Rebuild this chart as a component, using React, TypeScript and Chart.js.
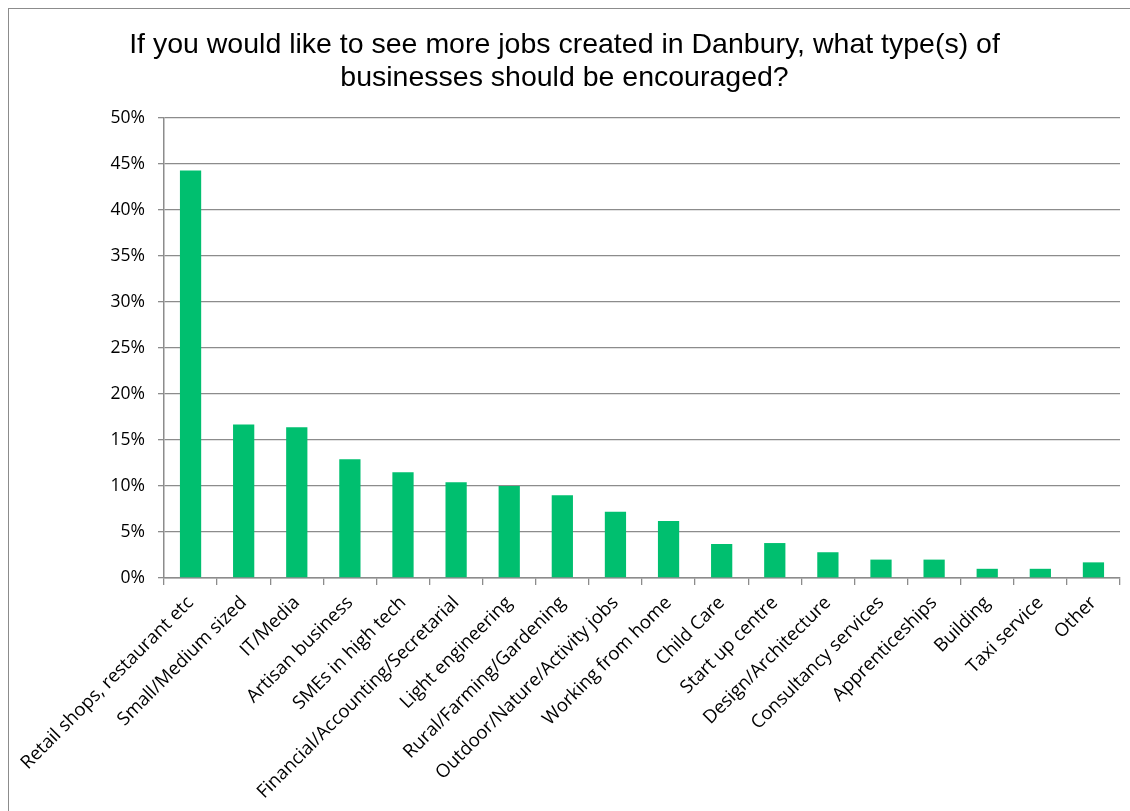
import React, { useEffect, useRef } from "react";
import { Chart, registerables } from "chart.js";

Chart.register(...registerables);

const titleLines = [
  "If you would like to see more jobs created in Danbury, what type(s) of",
  "businesses should be encouraged?",
];

const categories = [
  "Retail shops, restaurant etc",
  "Small/Medium sized",
  "IT/Media",
  "Artisan business",
  "SMEs in high tech",
  "Financial/Accounting/Secretarial",
  "Light engineering",
  "Rural/Farming/Gardening",
  "Outdoor/Nature/Activity jobs",
  "Working from home",
  "Child Care",
  "Start up centre",
  "Design/Architecture",
  "Consultancy services",
  "Apprenticeships",
  "Building",
  "Taxi service",
  "Other",
];

const percentages = [
  44.3, 16.7, 16.4, 12.9, 11.5, 10.4, 10.0, 9.0, 7.2, 6.2, 3.7, 3.8, 2.8, 2.0,
  2.0, 1.0, 1.0, 1.7,
];

const yMax = 50;
const yStep = 5;

export default function App() {
  const canvasRef = useRef<HTMLCanvasElement | null>(null);

  useEffect(() => {
    const canvas = canvasRef.current;
    if (!canvas) return;
    const gridColor = "#8c8c8c";
    const chart = new Chart(canvas, {
      type: "bar",
      data: {
        labels: categories,
        datasets: [
          {
            data: percentages,
            backgroundColor: "#00bf6f",
            borderWidth: 0,
            barPercentage: 0.4,
            categoryPercentage: 1,
          },
        ],
      },
      options: {
        responsive: false,
        animation: false,
        layout: { padding: { left: 0, right: 10, top: 0, bottom: 0 } },
        plugins: {
          legend: { display: false },
          tooltip: { enabled: false },
          title: {
            display: true,
            text: titleLines,
            color: "#000",
            font: {
              family: "'Liberation Sans', Arial, sans-serif",
              size: 28.5,
              weight: "normal",
              lineHeight: 1.16,
            },
            padding: { top: 20, bottom: 23 },
          },
        },
        scales: {
          x: {
            offset: true,
            grid: {
              offset: true,
              drawOnChartArea: false,
              drawTicks: true,
              tickLength: 7,
              color: gridColor,
              lineWidth: 1.3,
            },
            border: { display: true, color: gridColor, width: 1.5 },
            ticks: {
              autoSkip: false,
              maxRotation: 45,
              minRotation: 45,
              color: "#000",
              font: { family: "'Open Sans', sans-serif", size: 18.5 },
              padding: 7,
            },
            afterFit: (scale: any) => {
              scale.height = 233;
            },
          },
          y: {
            min: 0,
            max: yMax,
            grid: {
              color: gridColor,
              lineWidth: 1.3,
              tickLength: 6,
            },
            border: { display: true, color: gridColor, width: 1.5 },
            ticks: {
              stepSize: yStep,
              color: "#000",
              font: { family: "'Open Sans', sans-serif", size: 17.5 },
              padding: 13,
              callback: (v: any) => `${v}%`,
            },
            afterFit: (scale: any) => {
              scale.width = 155;
            },
          },
        },
      },
    });
    return () => chart.destroy();
  }, []);

  return (
    <div
      style={{
        position: "fixed",
        left: 8,
        top: 8,
        width: 1122,
        height: 803,
        borderLeft: "1px solid #8c8c8c",
        borderTop: "1px solid #8c8c8c",
        background: "#fff",
      }}
    >
      <canvas
        ref={canvasRef}
        width={1121}
        height={802}
        style={{ display: "block", width: 1121, height: 802 }}
      />
    </div>
  );
}
